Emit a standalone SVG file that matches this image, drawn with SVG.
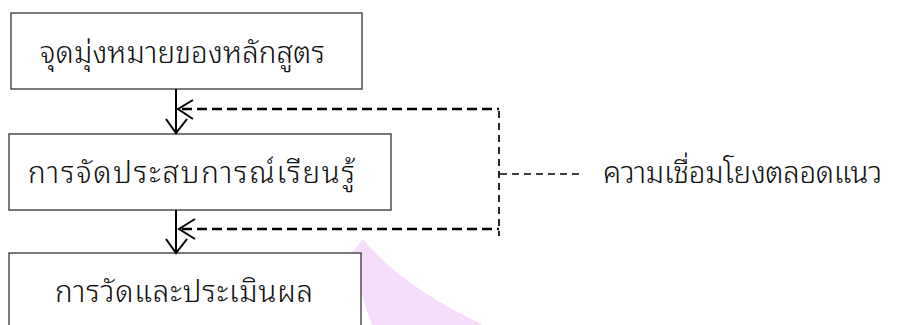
<svg xmlns="http://www.w3.org/2000/svg" width="898" height="325" viewBox="0 0 898 325">
<style>
.box{fill:#fff;stroke:#333;stroke-width:1.3}
.t{font-family:"Noto Sans Thai Looped","Noto Sans Thai","Noto Sans",sans-serif;font-size:29.5px;font-weight:300;fill:#111}
.solid{fill:none;stroke:#000;stroke-width:2}
.dash{fill:none;stroke:#000;stroke-width:2.3;stroke-dasharray:10 5}
.thin{fill:none;stroke:#000;stroke-width:1.7;stroke-dasharray:7 5}
</style>
<path d="M363,239 Q400,285 483,325 L372,325 L365,305 L350,255 Z" fill="#f6ddfb"/>
<g id="node1"><rect class="box" x="11" y="13" width="351" height="76"/><text class="t" x="40" y="63" textLength="285" lengthAdjust="spacing">จุดมุ่งหมายของหลักสูตร</text></g>
<g id="node2"><rect class="box" x="9" y="134" width="382" height="76"/><text class="t" x="28" y="183" textLength="327" lengthAdjust="spacing">การจัดประสบการณ์เรียนรู้</text></g>
<g id="node3"><rect class="box" x="9" y="253" width="352" height="80"/><text class="t" x="55" y="302" textLength="258" lengthAdjust="spacing">การวัดและประเมินผล</text></g>
<g id="label"><text class="t" x="603" y="183" textLength="279" lengthAdjust="spacing">ความเชื่อมโยงตลอดแนว</text></g>
<g id="connectors">
<line class="solid" x1="176" y1="89" x2="176" y2="133"/>
<polyline class="solid" points="166,119 176,133 187,119"/>
<line class="solid" x1="176" y1="210" x2="176" y2="253"/>
<polyline class="solid" points="166,239 176,253 187,239"/>
<line class="dash" x1="182" y1="109" x2="499" y2="109"/>
<polyline class="solid" points="193,100 178,109 193,119"/>
<line class="dash" x1="182" y1="229" x2="499" y2="229"/>
<polyline class="solid" points="195,219 179,229 195,239"/>
<line class="thin" x1="499" y1="111" x2="499" y2="236"/>
<line class="thin" x1="500" y1="174" x2="582" y2="174"/>
</g>
</svg>
